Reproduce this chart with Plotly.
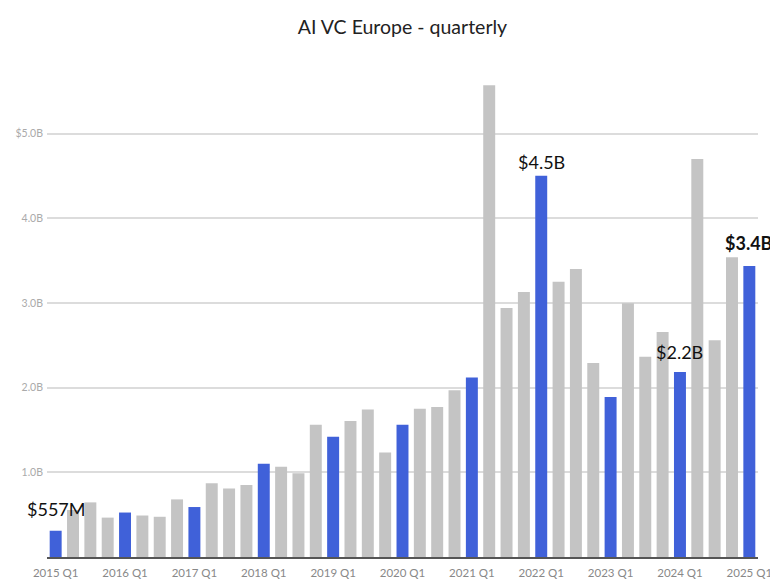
import plotly.graph_objects as go

quarters = [
    "2015 Q1", "2015 Q2", "2015 Q3", "2015 Q4",
    "2016 Q1", "2016 Q2", "2016 Q3", "2016 Q4",
    "2017 Q1", "2017 Q2", "2017 Q3", "2017 Q4",
    "2018 Q1", "2018 Q2", "2018 Q3", "2018 Q4",
    "2019 Q1", "2019 Q2", "2019 Q3", "2019 Q4",
    "2020 Q1", "2020 Q2", "2020 Q3", "2020 Q4",
    "2021 Q1", "2021 Q2", "2021 Q3", "2021 Q4",
    "2022 Q1", "2022 Q2", "2022 Q3", "2022 Q4",
    "2023 Q1", "2023 Q2", "2023 Q3", "2023 Q4",
    "2024 Q1", "2024 Q2", "2024 Q3", "2024 Q4",
    "2025 Q1",
]
vc_billions = [
    0.31, 0.555, 0.645, 0.465,
    0.525, 0.49, 0.475, 0.68,
    0.59, 0.87, 0.81, 0.85,
    1.10, 1.065, 0.99, 1.56,
    1.42, 1.605, 1.74, 1.235,
    1.56, 1.75, 1.77, 1.97,
    2.12, 5.57, 2.94, 3.13,
    4.50, 3.25, 3.40, 2.29,
    1.89, 2.995, 2.365, 2.655,
    2.185, 4.70, 2.56, 3.54,
    3.435,
]
x_tick_labels = ["2015 Q1", "2016 Q1", "2017 Q1", "2018 Q1", "2019 Q1", "2020 Q1",
                 "2021 Q1", "2022 Q1", "2023 Q1", "2024 Q1", "2025 Q1"]
y_tick_values = [1, 2, 3, 4, 5]
y_tick_labels = ["1.0B", "2.0B", "3.0B", "4.0B", "$5.0B"]

label_quarters = ["2015 Q1", "2022 Q1", "2024 Q1", "2025 Q1"]
label_texts = ["$557M", "$4.5B", "$2.2B", "<b>$3.4B</b>"]
label_levels = [0.567, 4.667, 2.424, 3.711]

BLUE = "#4061d9"
GRAY = "#c4c4c4"
colors = [BLUE if q.endswith("Q1") else GRAY for q in quarters]

# the page body adds an 8px offset; layout is expressed in figure pixels
W, H = 778, 584
ML, MR, MT, MB = 39, 28, 62, 35
PW, PH = W - ML - MR, H - MT - MB

fig = go.Figure()
fig.add_trace(go.Bar(x=quarters, y=vc_billions, marker_color=colors,
                     marker_line_width=0, hoverinfo="x+y"))

for q, t, lv in zip(label_quarters, label_texts, label_levels):
    fig.add_annotation(x=q, y=lv, text=t, showarrow=False, xanchor="center",
                       yanchor="middle", font=dict(family="Lato, sans-serif", size=18, color="#111"))

fig.update_layout(
    width=W, height=H,
    margin=dict(l=ML, r=MR, t=MT, b=MB),
    paper_bgcolor="white",
    plot_bgcolor="white",
    bargap=0.31,
    showlegend=False,
    title=dict(text="AI VC Europe - quarterly", x=0.5, xref="paper", xanchor="center",
               y=1 - 19 / H, yanchor="middle", yref="container",
               font=dict(family="Lato, sans-serif", size=19.5, color="#222")),
    font=dict(family="Lato, sans-serif"),
    xaxis=dict(type="category", categoryorder="array", categoryarray=quarters,
               tickmode="array", tickvals=x_tick_labels, ticktext=x_tick_labels,
               tickfont=dict(size=11.5, color="#888"), ticks="", automargin=False,
               ticklabelstandoff=4,
               showgrid=False, showline=True, linecolor="#555", linewidth=1.5,
               range=[-0.5, len(quarters) - 0.5]),
    yaxis=dict(range=[0, PH / 84.7], tickmode="array", tickvals=y_tick_values,
               ticktext=y_tick_labels, tickfont=dict(size=10.5, color="#aaa"),
               showgrid=True, gridcolor="#dcdcdc", gridwidth=1.5, zeroline=False,
               ticks="", ticklabelstandoff=3, automargin=False),
)

fig.write_html("out.html")
